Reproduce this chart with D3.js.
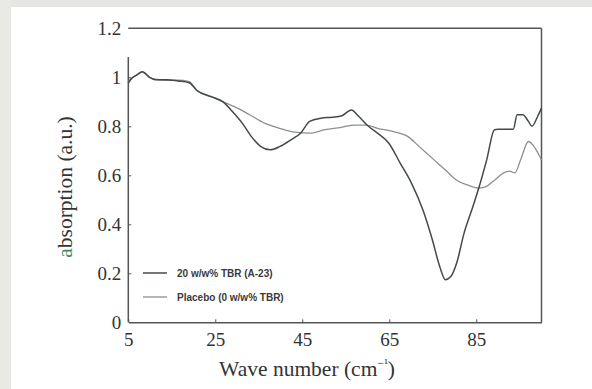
<!DOCTYPE html>
<html>
<head>
<meta charset="utf-8">
<script src="https://cdn.jsdelivr.net/npm/d3@7"></script>
<style>
  body { margin: 0; background: #fff; overflow: hidden; }
  svg { display: block; }
</style>
</head>
<body>
<svg id="chart" width="592" height="389"></svg>
<script>
// 20 w/w% TBR (A-23)
const tbrWave = [5, 5.6, 7, 8.2, 9.9, 11.2, 13.8, 16.4, 19, 20.8, 24.2, 26.8, 28.6, 31.2, 33.3, 35.5, 37.6, 39.8,
  42.4, 44.6, 46.7, 49.3, 51.9, 54.1, 56.3, 58, 60.2, 62.3, 64.9, 67.5, 70.1, 72.7, 74.9, 76.6, 77.9, 79.2,
  80.5, 82.2, 84, 85.7, 87.4, 89.2, 90, 93.5, 94.4, 95.7, 97, 97.8, 99.1, 100];
const tbrAbs = [0.976, 0.992, 1.01, 1.023, 1.0, 0.99, 0.99, 0.985, 0.978, 0.946, 0.92, 0.9, 0.867, 0.813, 0.758, 0.717, 0.704, 0.717,
  0.745, 0.772, 0.82, 0.833, 0.837, 0.843, 0.867, 0.84, 0.8, 0.772, 0.731, 0.65, 0.568, 0.46, 0.337, 0.228, 0.174, 0.188,
  0.242, 0.364, 0.46, 0.555, 0.663, 0.786, 0.788, 0.788, 0.847, 0.847, 0.82, 0.8, 0.84, 0.874];

// Placebo (0 w/w% TBR)
const placeboWave = [5, 5.6, 7, 8.2, 9.9, 11.2, 13.8, 16.4, 19, 20.8, 24.2, 26.8, 29.4, 32.9, 36.3, 39.8, 43.3, 46.7,
  50.2, 53.7, 57.1, 59.7, 62.3, 65.8, 69.3, 71.9, 75.3, 77.9, 80.5, 83.1, 85.7, 87.4, 89.2, 91.3, 92.6, 93.9,
  95.2, 97, 98.3, 99.6, 100];
const placeboAbs = [0.98, 0.994, 1.01, 1.022, 1.0, 0.992, 0.988, 0.988, 0.982, 0.946, 0.92, 0.9, 0.88, 0.847, 0.813, 0.792, 0.776, 0.772,
  0.786, 0.795, 0.805, 0.805, 0.792, 0.779, 0.758, 0.717, 0.663, 0.622, 0.58, 0.56, 0.548, 0.555, 0.58, 0.61, 0.617, 0.61,
  0.663, 0.738, 0.717, 0.677, 0.663];

const xTicks = [5, 25, 45, 65, 85];
const yTicks = [0, 0.2, 0.4, 0.6, 0.8, 1, 1.2];
const legendLabels = ["20 w/w% TBR (A-23)", "Placebo (0 w/w% TBR)"];

const svg = d3.select("#chart");
const plotLeft = 128.3, plotRight = 541.5, plotTop = 28.3, plotBottom = 322.3;

// scan noise along the top and left edges
svg.append("rect").attr("x", 0).attr("y", 0).attr("width", 592).attr("height", 7).attr("fill", "#e6e6e4");
svg.append("rect").attr("x", 0).attr("y", 0).attr("width", 11).attr("height", 389).attr("fill", "#e9e9e6");

const x = d3.scaleLinear().domain([5, 100]).range([plotLeft, plotRight]);
const y = d3.scaleLinear().domain([0, 1.2]).range([plotBottom, plotTop]);

const axisColor = "#555";
const serif = "'Liberation Serif', 'DejaVu Serif', serif";

// frame
svg.append("line").attr("x1", plotLeft).attr("x2", plotRight).attr("y1", plotTop).attr("y2", plotTop)
  .attr("stroke", axisColor).attr("stroke-width", 1.5);
svg.append("line").attr("x1", plotRight).attr("x2", plotRight).attr("y1", plotTop).attr("y2", plotBottom)
  .attr("stroke", axisColor).attr("stroke-width", 1.5);
svg.append("line").attr("x1", plotLeft).attr("x2", plotLeft).attr("y1", 57).attr("y2", plotBottom)
  .attr("stroke", axisColor).attr("stroke-width", 1.5);

// x axis
const xAxis = d3.axisBottom(x).tickValues(xTicks).tickSizeInner(-3).tickSizeOuter(0).tickPadding(10);
const gx = svg.append("g").attr("transform", `translate(0,${plotBottom})`).call(xAxis);
gx.select(".domain").attr("stroke", axisColor).attr("stroke-width", 1.5);
gx.selectAll(".tick line").attr("stroke", axisColor);
gx.selectAll(".tick text").attr("font-family", serif).attr("font-size", 19).attr("fill", "#333");

// y axis
const yAxis = d3.axisLeft(y).tickValues(yTicks).tickSizeInner(-3).tickSizeOuter(0).tickPadding(7)
  .tickFormat(d => d3.format("")(d));
const gy = svg.append("g").attr("transform", `translate(${plotLeft},0)`).call(yAxis);
gy.select(".domain").remove();
gy.selectAll(".tick line").attr("stroke", axisColor);
gy.selectAll(".tick text").attr("font-family", serif).attr("font-size", 19).attr("fill", "#333");
gy.selectAll(".tick").filter(d => d === 0).select("line").remove();
gy.selectAll(".tick").filter(d => d === 1.2).select("line").remove();

// axis titles
const xt = svg.append("text").attr("x", 307).attr("y", 376).attr("text-anchor", "middle")
  .attr("font-family", serif).attr("font-size", 21.5).attr("fill", "#333");
xt.append("tspan").text("Wave number (cm");
xt.append("tspan").attr("font-size", 12).attr("dy", -9).text("\u2212\u00B9");
xt.append("tspan").attr("dy", 9).text(")");

const yt = svg.append("text").attr("transform", "translate(72,187) rotate(-90)").attr("text-anchor", "middle")
  .attr("font-family", serif).attr("font-size", 21.5).attr("fill", "#333");
yt.append("tspan").attr("fill", "#3d8a6a").text("a");
yt.append("tspan").text("bsorption (a.u.)");

// curves
const line = d3.line().x(d => x(d[0])).y(d => y(d[1])).curve(d3.curveMonotoneX);
const series = [
  { wave: placeboWave, abs: placeboAbs, color: "#8d8f8d", width: 1.3 },
  { wave: tbrWave, abs: tbrAbs, color: "#434a4a", width: 1.5 }
];
svg.selectAll(".curve").data(series).enter().append("path")
  .attr("class", "curve")
  .attr("d", s => line(d3.zip(s.wave, s.abs)))
  .attr("fill", "none")
  .attr("stroke", s => s.color)
  .attr("stroke-width", s => s.width);

// legend
const lg = svg.append("g");
const legendColors = ["#434a4a", "#8d8f8d"];
legendLabels.forEach((label, i) => {
  const ly = 273 + i * 24;
  lg.append("line").attr("x1", 143).attr("x2", 167).attr("y1", ly).attr("y2", ly)
    .attr("stroke", legendColors[i]).attr("stroke-width", i === 0 ? 1.5 : 1.3);
  lg.append("text").attr("x", 177).attr("y", ly + 3.5)
    .attr("font-family", "'Liberation Sans', Arial, sans-serif").attr("font-weight", "bold")
    .attr("font-size", 10).attr("fill", "#3a3a3a").text(label);
});
</script>
</body>
</html>
